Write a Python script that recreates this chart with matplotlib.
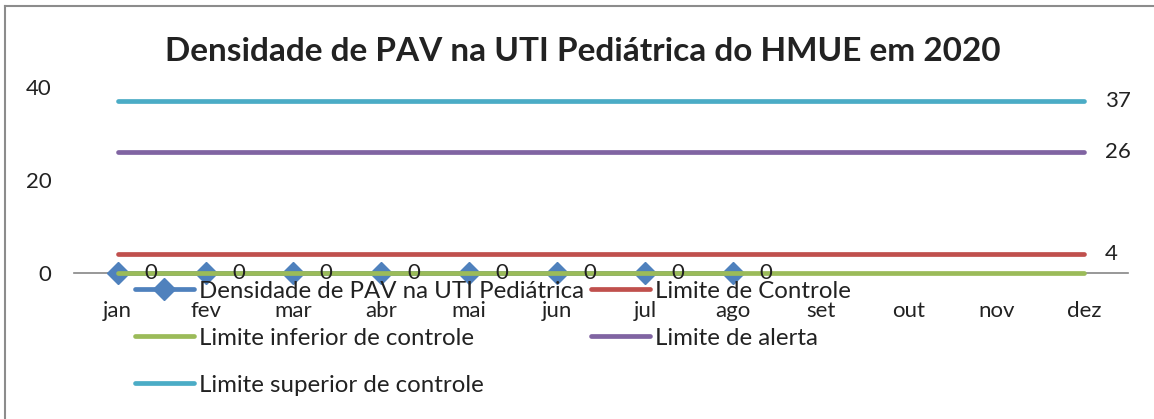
import matplotlib.pyplot as plt
from matplotlib.lines import Line2D

plt.rcParams['font.family'] = ['Lato', 'DejaVu Sans']

meses = ['jan', 'fev', 'mar', 'abr', 'mai', 'jun', 'jul', 'ago', 'set', 'out', 'nov', 'dez']
densidade = [0, 0, 0, 0, 0, 0, 0, 0]
limite_controle = [4, 4, 4, 4, 4, 4, 4, 4, 4, 4, 4, 4]
limite_inferior = [0, 0, 0, 0, 0, 0, 0, 0, 0, 0, 0, 0]
limite_alerta = [26, 26, 26, 26, 26, 26, 26, 26, 26, 26, 26, 26]
limite_superior = [37, 37, 37, 37, 37, 37, 37, 37, 37, 37, 37, 37]

azul = '#4F81BD'
vermelho = '#C0504D'
verde = '#9BBB59'
roxo = '#8064A2'
ciano = '#4BACC6'
texto = '#222222'

fig = plt.figure(figsize=(11.54, 4.19), dpi=100)
ax = fig.add_axes([0.064, 0.3484, 0.9135, 0.4436])

x = list(range(len(meses)))
lw = 3.4
h_dens, = ax.plot(x[:len(densidade)], densidade, color=azul, lw=lw, marker='D',
                  markersize=11, solid_capstyle='round', clip_on=False,
                  label='Densidade de PAV na UTI Pediátrica')
h_ctrl, = ax.plot(x, limite_controle, color=vermelho, lw=lw, solid_capstyle='round',
                  label='Limite de Controle')
h_inf, = ax.plot(x, limite_inferior, color=verde, lw=lw, solid_capstyle='round', clip_on=False,
                 label='Limite inferior de controle')
h_alr, = ax.plot(x, limite_alerta, color=roxo, lw=lw, solid_capstyle='round',
                 label='Limite de alerta')
h_sup, = ax.plot(x, limite_superior, color=ciano, lw=lw, solid_capstyle='round',
                 label='Limite superior de controle')

# rótulos de dados
for xi, v in zip(x, densidade):
    ax.annotate(f"{v}", (xi, v), xytext=(19, 0), textcoords='offset points',
                ha='left', va='center', fontsize=16, color=texto)
for serie in (limite_superior, limite_alerta, limite_controle):
    ax.annotate(f"{serie[-1]}", (x[-1], serie[-1]), xytext=(15, 0), textcoords='offset points',
                ha='left', va='center', fontsize=16, color=texto)

ax.set_xlim(-0.5, 11.5)
ax.set_ylim(0, 40)
ax.set_yticks([0, 20, 40])
ax.set_xticks(x)
ax.set_xticklabels(meses)
ax.tick_params(axis='x', length=0, pad=20, labelsize=16, colors=texto)
ax.tick_params(axis='y', length=0, pad=16, labelsize=16, colors=texto)
for s in ('top', 'right', 'left'):
    ax.spines[s].set_visible(False)
ax.spines['bottom'].set_color('#868686')
ax.spines['bottom'].set_linewidth(1.2)
ax.spines['bottom'].set_zorder(0)

fig.text(0.505, 0.878, 'Densidade de PAV na UTI Pediátrica do HMUE em 2020',
         ha='center', va='center', fontsize=24, fontweight='bold', color=texto)

ordem = [h_dens, h_inf, h_sup, h_ctrl, h_alr]
leg = fig.legend(ordem, [h.get_label() for h in ordem],
                 ncol=2, loc='upper left', bbox_to_anchor=(0.117, 0.33),
                 frameon=False, fontsize=17.3, handlelength=2.45, handletextpad=0.2,
                 labelspacing=1.08, columnspacing=0.3, borderaxespad=0, borderpad=0)
for t in leg.get_texts():
    t.set_color(texto)

# borda do gráfico
fig.add_artist(Line2D([0.0043, 0.0043], [0, 0.986], transform=fig.transFigure, color='#8c8c8c', lw=1.5))
fig.add_artist(Line2D([0.0043, 1.0], [0.986, 0.986], transform=fig.transFigure, color='#8c8c8c', lw=1.5))

fig.savefig('out.png', dpi=100)
